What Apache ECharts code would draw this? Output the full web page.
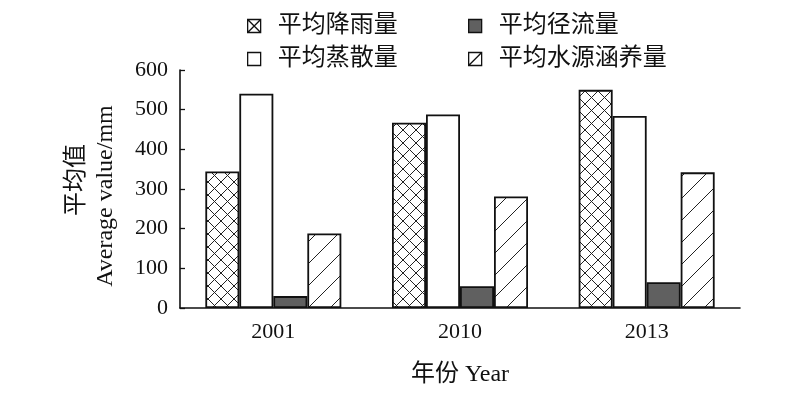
<!DOCTYPE html>
<html>
<head>
<meta charset="utf-8">
<script src="https://cdn.jsdelivr.net/npm/echarts@6/dist/echarts.min.js"></script>
<style>html,body{margin:0;padding:0;background:#fff;}#c{width:800px;height:395px;}</style>
</head>
<body>
<div id="c"></div>
<script>
var categories = ['2001', '2010', '2013'];
var seriesNames = ['平均降雨量', '平均蒸散量', '平均径流量', '平均水源涵养量'];
var rainfall = [344, 467, 550];
var evapotranspiration = [540, 488, 484];
var runoff = [30, 55, 65];
var waterConservation = [188, 281, 342];
var yTicks = [0, 100, 200, 300, 400, 500, 600];
var xAxisTitle = '年份 Year';
var yAxisTitleCn = '平均值';
var yAxisTitleEn = 'Average value/mm';

var LATIN = '"Liberation Serif", "Noto Sans CJK SC", serif';
var CJK = '"Liberation Serif", "Noto Sans CJK SC", serif';

function crossTile() {
  var s = 13, c = document.createElement('canvas');
  c.width = s; c.height = s;
  var g = c.getContext('2d');
  g.fillStyle = '#fff'; g.fillRect(0, 0, s, s);
  g.strokeStyle = '#222'; g.lineWidth = 1;
  g.beginPath();
  g.moveTo(-1, -1); g.lineTo(s + 1, s + 1);
  g.moveTo(-1, s + 1); g.lineTo(s + 1, -1);
  g.stroke();
  return c;
}
function slashTile() {
  var s = 22, c = document.createElement('canvas');
  c.width = s; c.height = s;
  var g = c.getContext('2d');
  g.fillStyle = '#fff'; g.fillRect(0, 0, s, s);
  g.strokeStyle = '#222'; g.lineWidth = 1;
  g.beginPath();
  g.moveTo(-2, s + 2); g.lineTo(s + 2, -2);
  g.stroke();
  return c;
}
var crossPattern = { image: crossTile(), repeat: 'repeat' };
var slashPattern = { image: slashTile(), repeat: 'repeat' };

var border = { borderColor: '#111', borderWidth: 1.8 };
function style(color) { return Object.assign({ color: color }, border); }

var iconStyle = { color: '#fff', borderColor: '#111', borderWidth: 1.3 };
function legendItem(name, left, top, icon, istyle) {
  return {
    data: [{ name: name, icon: icon, itemStyle: istyle }],
    left: left, top: top,
    itemWidth: 13, itemHeight: 13,
    padding: 0,
    textStyle: { fontFamily: CJK, fontSize: 24, color: '#111', padding: [0, 0, 0, 12] }
  };
}

var chart = echarts.init(document.getElementById('c'), null, { renderer: 'canvas' });
chart.setOption({
  backgroundColor: '#fff',
  animation: false,
  grid: { left: 180, right: 60, top: 70, bottom: 87 },
  legend: [
    legendItem(seriesNames[0], 247, 14, 'path://M0,0H10V10H0Z M0,0L10,10 M10,0L0,10', iconStyle),
    legendItem(seriesNames[2], 468, 14, 'rect', { color: '#606060', borderColor: '#111', borderWidth: 1.3 }),
    legendItem(seriesNames[1], 247, 47, 'rect', iconStyle),
    legendItem(seriesNames[3], 468, 47, 'path://M0,0H10V10H0Z M0,10L10,0', iconStyle)
  ],
  xAxis: {
    type: 'category',
    data: categories,
    axisLine: { lineStyle: { color: '#111', width: 1.6 } },
    axisTick: { show: false },
    axisLabel: { fontFamily: LATIN, fontSize: 22, color: '#111', margin: 13 },
    name: xAxisTitle,
    nameLocation: 'middle',
    nameGap: 55,
    nameTextStyle: { fontFamily: CJK, fontSize: 24, color: '#111' }
  },
  yAxis: {
    type: 'value',
    min: yTicks[0], max: yTicks[yTicks.length - 1], interval: 100,
    axisLine: { show: true, lineStyle: { color: '#111', width: 1.6 } },
    axisTick: { show: true, inside: true, length: 5, lineStyle: { color: '#111', width: 1.3 } },
    splitLine: { show: false },
    axisLabel: { fontFamily: LATIN, fontSize: 22, color: '#111', margin: 12 }
  },
  graphic: [
    {
      type: 'text', x: 77, y: 180, rotation: Math.PI / 2,
      style: { text: yAxisTitleCn, fontFamily: CJK, fontSize: 24, fill: '#111', align: 'center', verticalAlign: 'middle' }
    },
    {
      type: 'text', x: 106, y: 196, rotation: Math.PI / 2,
      style: { text: yAxisTitleEn, fontFamily: LATIN, fontSize: 24, fill: '#111', align: 'center', verticalAlign: 'middle' }
    }
  ],
  series: [
    { name: seriesNames[0], type: 'bar', data: rainfall, barWidth: 34, barGap: '0%', itemStyle: style(crossPattern) },
    { name: seriesNames[1], type: 'bar', data: evapotranspiration, barWidth: 34, barGap: '0%', itemStyle: style('#fff') },
    { name: seriesNames[2], type: 'bar', data: runoff, barWidth: 34, barGap: '0%', itemStyle: style('#606060') },
    { name: seriesNames[3], type: 'bar', data: waterConservation, barWidth: 34, barGap: '0%', itemStyle: style(slashPattern) }
  ]
});
</script>
</body>
</html>
